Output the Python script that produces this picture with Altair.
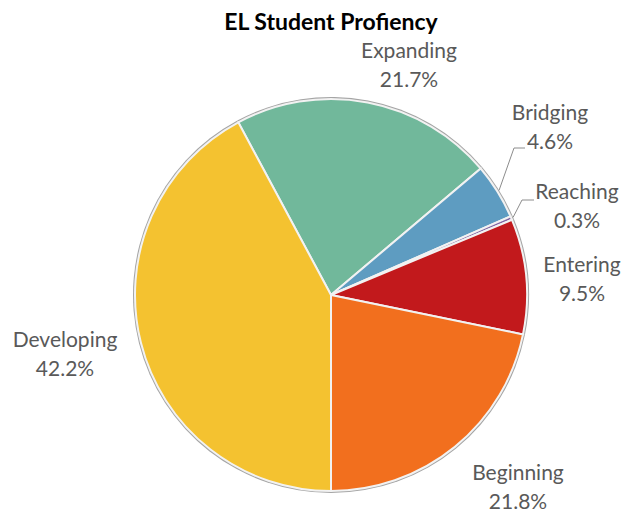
import math
import altair as alt
import pandas as pd

# ---- data ----
categories = ["Expanding", "Bridging", "Reaching", "Entering", "Beginning", "Developing"]
percents = [21.7, 4.6, 0.3, 9.5, 21.8, 42.2]
colors = ["#71b89b", "#5e9cc1", "#8064a2", "#c2191c", "#f26f1e", "#f4c230"]
title_text = "EL Student Profiency"

# ---- layout (pixels) ----
W, H = 615, 465          # plot area
CX, CY = 323, 247        # pie centre inside plot area
R = 196                  # pie radius
FONT = "Lato"
LINE_H = 29
label_offsets = {        # label block centre relative to pie centre (y down)
    "Expanding": (78, -229),
    "Bridging": (219, -167),
    "Reaching": (246, -88),
    "Entering": (251, -15),
    "Beginning": (187, 193),
    "Developing": (-266, 60),
}
leader_bends = {         # elbow and end of leader lines relative to centre (y down)
    "Bridging": [(183, -147), (194, -147)],
    "Reaching": [(191, -95), (203, -95)],
}

total = sum(percents)
developing_idx = categories.index("Developing")
before = sum(percents[:developing_idx])
start = math.pi - 2 * math.pi * before / total

pie_df = pd.DataFrame({
    "category": categories,
    "value": percents,
    "idx": list(range(len(categories))),
})

# labels (y is the first line's centre)
lab_rows = []
for c, v in zip(categories, percents):
    dx, dy = label_offsets[c]
    lab_rows.append({"category": c, "text": f"{c}\n{v:.1f}%", "x": dx, "y": -(dy - LINE_H / 2)})
lab_df = pd.DataFrame(lab_rows)

# leader lines: start on the pie edge at the slice's mid angle
line_rows = []
cum = 0.0
for c, v in zip(categories, percents):
    mid = start + 2 * math.pi * (cum + v / 2) / total
    cum += v
    if c in leader_bends:
        pts = [(R + 2) * math.sin(mid), -(R + 2) * math.cos(mid)]
        seq = [tuple(pts)] + leader_bends[c]
        for i, (px, py) in enumerate(seq):
            line_rows.append({"category": c, "step": i, "x": px, "y": -py})
line_df = pd.DataFrame(line_rows)

theta = alt.Theta("value:Q", stack=True,
                  scale=alt.Scale(range=[start, start + 2 * math.pi]))
order = alt.Order("idx:Q", sort="ascending")

outline = alt.Chart(pie_df).mark_arc(radius=R + 2, color="#a5a5a5").encode(
    theta=theta, order=order, x=alt.value(CX), y=alt.value(CY))

pie = alt.Chart(pie_df).mark_arc(radius=R, stroke="#f2f2f2", strokeWidth=2).encode(
    theta=theta,
    order=order,
    color=alt.Color("category:N", scale=alt.Scale(domain=categories, range=colors), legend=None),
    x=alt.value(CX), y=alt.value(CY),
)

xs = alt.Scale(domain=[-CX, W - CX], nice=False, zero=False)
ys = alt.Scale(domain=[-(H - CY), CY], nice=False, zero=False)

leaders = alt.Chart(line_df).mark_line(color="#8c8c8c", strokeWidth=1).encode(
    x=alt.X("x:Q", scale=xs, axis=None),
    y=alt.Y("y:Q", scale=ys, axis=None),
    detail="category:N",
    order="step:Q",
)

labels = alt.Chart(lab_df).mark_text(
    font=FONT, fontSize=21, color="#595959", lineBreak="\n", lineHeight=LINE_H,
    align="center", baseline="middle").encode(
    x=alt.X("x:Q", scale=xs, axis=None),
    y=alt.Y("y:Q", scale=ys, axis=None),
    text="text:N",
)

chart = alt.layer(outline, pie, leaders, labels).properties(
    width=W, height=H,
    title=alt.TitleParams(title_text, font=FONT, fontSize=23, fontWeight="bold",
                          color="#000000", anchor="middle", dx=15.5, offset=6),
    padding={"left": 0, "top": 40, "right": 0, "bottom": 0},
    autosize=alt.AutoSizeParams(type="none"),
).configure_view(stroke=None)

chart.save("out.html", embed_options={"renderer": "svg", "actions": False})
